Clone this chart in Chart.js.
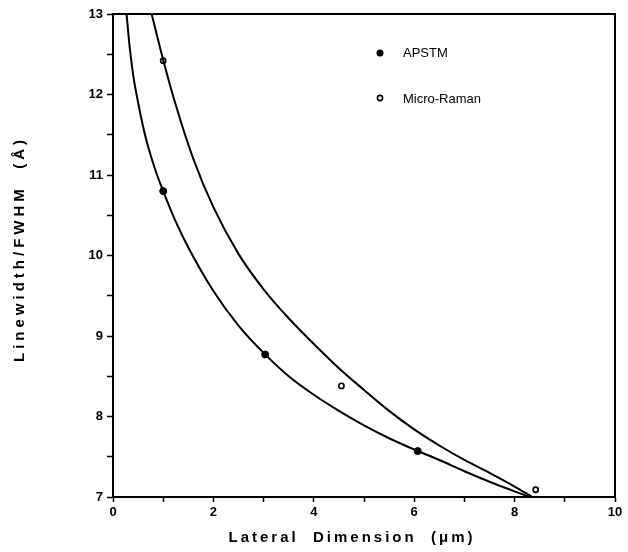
<!DOCTYPE html>
<html>
<head>
<meta charset="utf-8">
<script src="https://cdn.jsdelivr.net/npm/chart.js@4"></script>
<style>
  body { margin: 0; background: #fff; }
  #wrap { width: 628px; height: 552px; }
</style>
</head>
<body>
<div id="wrap"><canvas id="fwhmChart" width="628" height="552"></canvas></div>
<script>
// measured points
const apstmX = [1, 3.03, 6.07];
const apstmY = [10.8, 8.77, 7.57];
const ramanX = [1, 4.55, 8.42];
const ramanY = [12.42, 8.38, 7.09];

// fitted curves
const lowFitX = [0.27, 0.33, 0.4, 0.5, 0.6, 0.7, 0.85, 1.0, 1.25, 1.5, 2.0, 2.5, 3.0, 3.5, 4.0, 4.5, 5.0, 5.5, 6.0, 6.5, 7.0, 7.5, 8.0, 8.3];
const lowFitY = [13.0, 12.6, 12.25, 11.9, 11.6, 11.35, 11.05, 10.8, 10.42, 10.1, 9.56, 9.13, 8.79, 8.5, 8.27, 8.07, 7.89, 7.73, 7.59, 7.46, 7.32, 7.19, 7.07, 7.0];
const highFitX = [0.77, 1.0, 1.26, 1.6, 2.0, 2.5, 3.0, 3.5, 4.0, 4.5, 5.0, 5.5, 6.0, 6.5, 7.0, 7.5, 8.0, 8.35];
const highFitY = [13.0, 12.43, 11.85, 11.2, 10.6, 10.02, 9.58, 9.22, 8.9, 8.6, 8.33, 8.07, 7.84, 7.64, 7.46, 7.3, 7.13, 7.0];

const legendLabels = ['APSTM', 'Micro-Raman'];
const xTitle = 'Lateral  Dimension  (\u03bcm)';
const yTitle = 'Linewidth/FWHM  (\u00c5)';

const toPts = (xs, ys) => xs.map((x, i) => ({ x: x, y: ys[i] }));

// frame, axis titles and the little legend inside the plot
const extras = {
    id: 'extras',
    afterDraw(chart) {
        const ctx = chart.ctx;
        const a = chart.chartArea;
        ctx.save();
        ctx.strokeStyle = '#000';
        ctx.lineWidth = 2;
        ctx.strokeRect(a.left, a.top, a.right - a.left, a.bottom - a.top);

        ctx.fillStyle = '#000';
        ctx.font = 'bold 15px "Liberation Sans", Arial, sans-serif';
        ctx.letterSpacing = '3px';
        ctx.textAlign = 'center';
        ctx.textBaseline = 'middle';
        ctx.fillText(xTitle, 352, 538);

        ctx.save();
        ctx.letterSpacing = '4px';
        ctx.translate(20, 249);
        ctx.rotate(-Math.PI / 2);
        ctx.fillText(yTitle, 0, 0);
        ctx.restore();

        ctx.letterSpacing = '0px';
        ctx.font = '13px "Liberation Sans", Arial, sans-serif';
        ctx.textAlign = 'left';
        ctx.fillText(legendLabels[0], 403, 53);
        ctx.fillText(legendLabels[1], 403, 99);

        ctx.beginPath();
        ctx.arc(380, 53, 3.5, 0, Math.PI * 2);
        ctx.fill();
        ctx.beginPath();
        ctx.lineWidth = 1.6;
        ctx.arc(380, 98, 2.6, 0, Math.PI * 2);
        ctx.stroke();
        ctx.restore();
    }
};

const tickFont = { family: '"Liberation Sans", Arial, sans-serif', size: 13, weight: 'bold' };

new Chart(document.getElementById('fwhmChart'), {
    type: 'scatter',
    data: {
        datasets: [
            {
                label: 'fit low',
                data: toPts(lowFitX, lowFitY),
                showLine: true,
                borderColor: '#000',
                borderWidth: 2,
                pointRadius: 0,
                cubicInterpolationMode: 'monotone'
            },
            {
                label: 'fit high',
                data: toPts(highFitX, highFitY),
                showLine: true,
                borderColor: '#000',
                borderWidth: 2,
                pointRadius: 0,
                cubicInterpolationMode: 'monotone'
            },
            {
                label: legendLabels[0],
                data: toPts(apstmX, apstmY),
                pointRadius: 3.5,
                backgroundColor: '#000',
                borderColor: '#000',
                borderWidth: 1
            },
            {
                label: legendLabels[1],
                data: toPts(ramanX, ramanY),
                pointRadius: 2.6,
                backgroundColor: '#fff',
                borderColor: '#000',
                borderWidth: 1.6
            }
        ]
    },
    options: {
        responsive: false,
        animation: false,
        layout: { padding: { top: 14, right: 13, left: 0, bottom: 0 } },
        plugins: {
            legend: { display: false },
            tooltip: { enabled: false }
        },
        scales: {
            x: {
                type: 'linear',
                min: 0,
                max: 10,
                afterFit: (s) => { s.height = 55; },
                ticks: {
                    stepSize: 1,
                    autoSkip: false,
                    maxRotation: 0,
                    padding: 3,
                    color: '#000',
                    font: tickFont,
                    callback: (v) => (v % 2 === 0 ? v : '')
                },
                grid: { drawOnChartArea: false, tickLength: 5, color: '#000', tickWidth: 1.5 },
                border: { color: '#000', width: 2 }
            },
            y: {
                type: 'linear',
                min: 7,
                max: 13,
                afterFit: (s) => { s.width = 113; },
                ticks: {
                    stepSize: 0.5,
                    autoSkip: false,
                    padding: 4,
                    color: '#000',
                    font: tickFont,
                    callback: (v) => (Number.isInteger(v) ? v : '')
                },
                grid: { drawOnChartArea: false, tickLength: 6, color: '#000', tickWidth: 1.5 },
                border: { color: '#000', width: 2 }
            }
        }
    },
    plugins: [extras]
});
</script>
</body>
</html>
